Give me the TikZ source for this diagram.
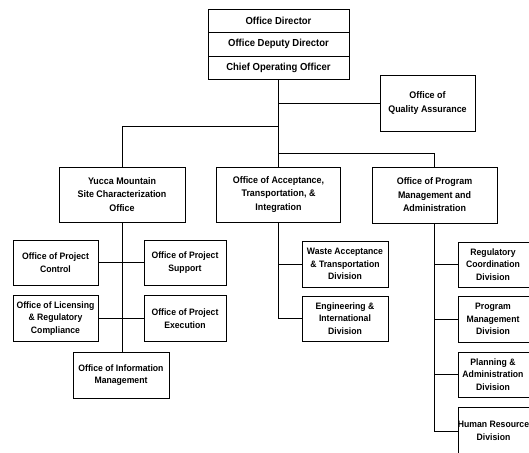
\documentclass[tikz,border=0pt]{standalone}
\usepackage{fontspec}
\setmainfont[FakeStretch=0.93]{Liberation Sans}
\begin{document}
\begin{tikzpicture}[x=1pt,y=-1pt,
  box/.style={draw, line width=0.7pt, align=center, inner sep=0pt,
    font=\fontsize{9.6}{13.5}\selectfont\bfseries},
  topbox/.style={box, minimum width=141pt, font=\fontsize{10.2}{12}\selectfont\bfseries},
  sbox/.style={box, font=\fontsize{9.3}{12.6}\selectfont\bfseries},
  txt/.style={align=center, inner sep=0pt, font=\fontsize{9.3}{12.6}\selectfont\bfseries},
  link/.style={line width=0.7pt}]
\useasboundingbox (0,0) rectangle (529,452);
\clip (0,0) rectangle (529,452);
% top block
\node[topbox, minimum height=23pt] (dir) at (278.5,20.5) {Office Director};
\node[topbox, minimum height=24pt] (dep) at (278.5,44) {Office Deputy Director};
\node[topbox, minimum height=23pt] (coo) at (278.5,67.5) {Chief Operating Officer};
\node[box, minimum width=95pt, minimum height=56pt] (qa) at (427.5,103) {Office of\\Quality Assurance};
% middle level
\node[box, minimum width=126pt, minimum height=55pt] (yuc) at (122,194.5) {Yucca Mountain\\Site Characterization\\Office};
\node[box, minimum width=124pt, minimum height=55pt] (acc) at (278.5,194.5) {Office of Acceptance,\\Transportation, \&\\Integration};
\node[box, minimum width=125pt, minimum height=56pt] (prg) at (434.5,195) {Office of Program\\Management and\\Administration};
% Yucca subtree
\node[sbox, minimum width=85pt, minimum height=45pt] (ctl) at (55.5,262.5) {Office of Project\\Control};
\node[sbox, minimum width=85pt, minimum height=46pt] (lic) at (55.5,318.5) {Office of Licensing\\\& Regulatory\\Compliance};
\node[sbox, minimum width=82pt, minimum height=45pt] (sup) at (185,262.5) {Office of Project\\Support};
\node[sbox, minimum width=82pt, minimum height=46pt] (exe) at (185,318.5) {Office of Project\\Execution};
\node[sbox, minimum width=96pt, minimum height=46pt] (inf) at (121,375) {Office of Information\\Management};
% Acceptance subtree
\node[sbox, minimum width=86pt, minimum height=46pt] (was) at (345,264) {Waste Acceptance\\\& Transportation\\Division};
\node[sbox, minimum width=86pt, minimum height=45pt] (eng) at (345,318.5) {Engineering \&\\International\\Division};
% Program subtree (boxes run past the right edge)
\node[sbox, minimum width=74pt, minimum height=45pt] (reg) at (495,264.5) {};
\node[sbox, minimum width=74pt, minimum height=46pt] (pm) at (495,319) {};
\node[sbox, minimum width=74pt, minimum height=45pt] (pla) at (495,374.5) {};
\node[sbox, minimum width=74pt, minimum height=48pt] (hr) at (495,431) {};
\node[txt] (regt) at (493,264.5) {Regulatory\\Coordination\\Division};
\node[txt] (pmt) at (493,319) {Program\\Management\\Division};
\node[txt] (plat) at (493,374.5) {Planning \&\\Administration\\Division};
\node[txt] (hrt) at (493.5,431) {Human Resource\\Division};
% connectors
\coordinate (busL) at (278.5,126);
\coordinate (busR) at (278.5,153);
\draw[link] (coo.south) -- (acc.north);
\draw[link] (coo.south |- qa.west) -- (qa.west);
\draw[link] (busL) -| (yuc.north);
\draw[link] (busR) -| (prg.north);
\draw[link] (yuc.south) -- (yuc.south |- inf.north);
\draw[link] (ctl.east) -- (sup.west);
\draw[link] (lic.east) -- (exe.west);
\draw[link] (acc.south) |- (eng.west);
\draw[link] (acc.south |- was.west) -- (was.west);
\draw[link] (prg.south) |- (hr.west);
\draw[link] (prg.south |- reg.west) -- (reg.west);
\draw[link] (prg.south |- pm.west) -- (pm.west);
\draw[link] (prg.south |- pla.west) -- (pla.west);
\end{tikzpicture}
\end{document}
